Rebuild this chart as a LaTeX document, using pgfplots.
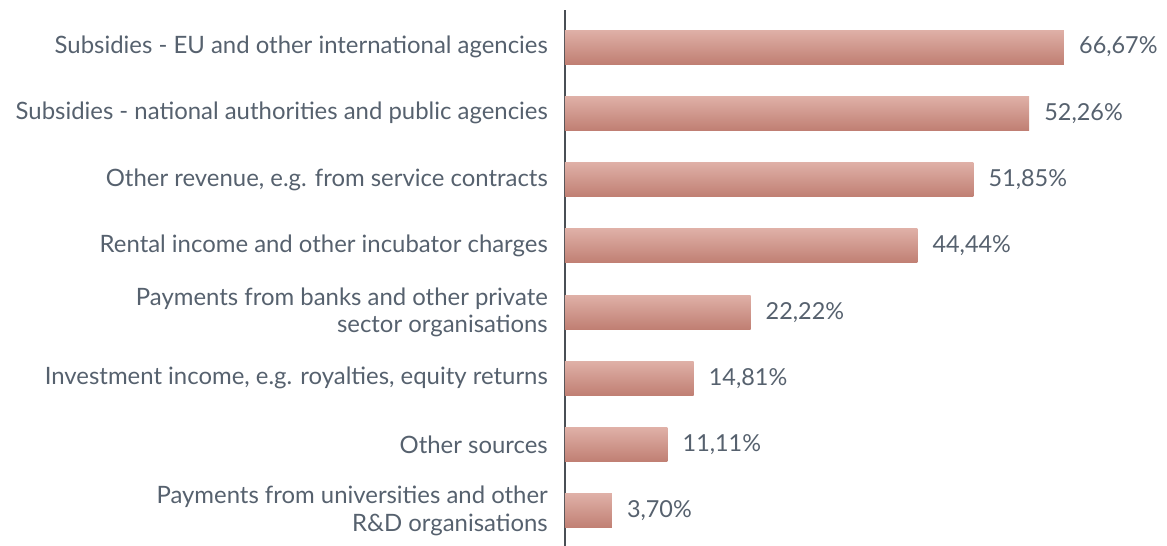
\documentclass[border=0pt]{standalone}
\usepackage{pgfplots}
\pgfplotsset{compat=1.18}
\usepackage{fontspec}
\setmainfont{Lato}
\definecolor{txt}{HTML}{56616E}
\definecolor{axl}{HTML}{4A4F55}
\definecolor{bartop}{HTML}{DFB0A7}
\definecolor{barbot}{HTML}{C07F73}
\pgfplotsset{gbar/.style={draw=none, top color=bartop, bottom color=barbot, bar shift=0pt}}
\begin{document}
\begin{tikzpicture}
\begin{axis}[
  name=ax,
  scale only axis,
  width=600bp, height=536bp,
  xmin=0, xmax=80.2,
  ymin=-0.53, ymax=7.56,
  axis x line=none,
  axis y line=left,
  y axis line style={-, draw=axl, line width=1.2bp},
  ytick={0,1,2,3,4,5,6,7},
  yticklabels={{Payments from universities and other\\R\&D organisations},
    {Other sources},
    {Investment income, e.g. royalties, equity returns},
    {Payments from banks and other private\\sector organisations},
    {Rental income and other incubator charges},
    {Other revenue, e.g. from service contracts},
    {Subsidies - national authorities and public agencies},
    {Subsidies - EU and other international agencies}},
  major tick length=0pt,
  yticklabel style={align=right, inner sep=0pt, xshift=-17bp, text=txt,
    font=\fontsize{24}{27.5}\selectfont},
  xbar, bar width=0.513,
  nodes near coords,
  point meta=explicit symbolic,
  every node near coord/.append style={anchor=west, inner sep=0pt, xshift=15bp,
    text=txt, font=\fontsize{23.5}{27.5}\selectfont},
  clip=false,
]
\addplot[gbar] coordinates {(66.70,7) [66,67\%]};
\addplot[gbar] coordinates {(62.05,6) [52,26\%]};
\addplot[gbar] coordinates {(54.60,5) [51,85\%]};
\addplot[gbar] coordinates {(47.10,4) [44,44\%]};
\addplot[gbar] coordinates {(24.80,3) [22,22\%]};
\addplot[gbar] coordinates {(17.20,2) [14,81\%]};
\addplot[gbar] coordinates {(13.70,1) [11,11\%]};
\addplot[gbar] coordinates {(6.26,0) [3,70\%]};
\end{axis}
\pgfresetboundingbox
\path ([xshift=-565bp]ax.south west) rectangle ([xshift=2bp,yshift=10bp]ax.north east);
\end{tikzpicture}
\end{document}
